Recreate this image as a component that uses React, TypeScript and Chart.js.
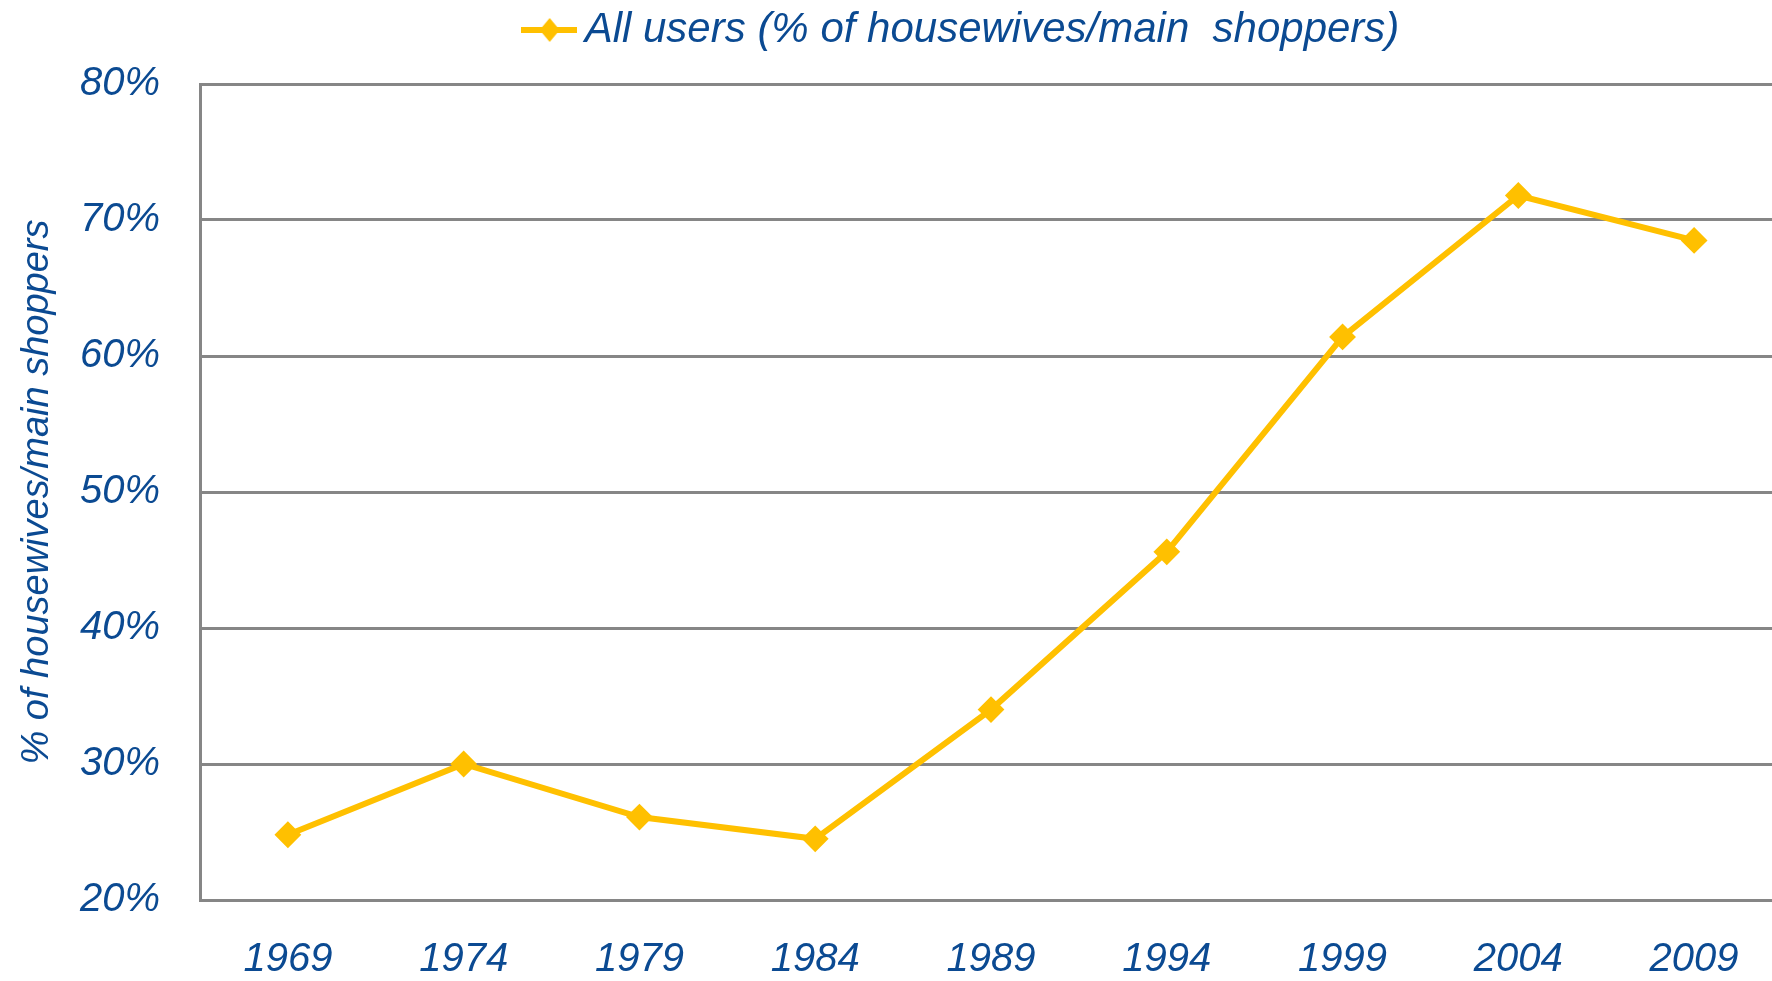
import React, { useEffect, useRef } from "react";
import { Chart, registerables } from "chart.js";

Chart.register(...registerables);

const years = ["1969", "1974", "1979", "1984", "1989", "1994", "1999", "2004", "2009"];
const allUsers = [24.8, 30.0, 26.1, 24.5, 34.0, 45.6, 61.4, 71.8, 68.5];
const seriesLabel = "All users (% of housewives/main  shoppers)";
const yAxisTitle = "% of housewives/main shoppers";
const yMin = 20;
const yMax = 80;
const yStep = 10;

const TEXT = "#0B4A92";
const LINE = "#FFC000";
const GRID = "#868686";
const FONT = "'Liberation Sans', Arial, sans-serif";
const CANVAS_W = 1796;

function makeLegendMarker(): HTMLCanvasElement {
  const c = document.createElement("canvas");
  c.width = 56;
  c.height = 26;
  const ctx = c.getContext("2d")!;
  ctx.strokeStyle = LINE;
  ctx.lineWidth = 6;
  ctx.beginPath();
  ctx.moveTo(0, 13);
  ctx.lineTo(56, 13);
  ctx.stroke();
  ctx.fillStyle = LINE;
  ctx.beginPath();
  ctx.moveTo(29, 1);
  ctx.lineTo(39, 13);
  ctx.lineTo(29, 25);
  ctx.lineTo(19, 13);
  ctx.closePath();
  ctx.fill();
  return c;
}

const legendTweaks = {
  id: "legendTweaks",
  beforeInit(chart: any) {
    const legend = chart.legend;
    if (!legend) return;
    const origFit = legend.fit;
    legend.fit = function () {
      origFit.call(this);
      this.height += 23;
    };
  },
  afterLayout(chart: any) {
    if (chart.legend) chart.legend.left += 137;
  },
};

export default function App() {
  const ref = useRef<HTMLCanvasElement>(null);
  useEffect(() => {
    if (!ref.current) return;
    const marker = makeLegendMarker();
    const chart = new Chart(ref.current, {
      type: "line",
      data: {
        labels: years,
        datasets: [
          {
            label: seriesLabel,
            data: allUsers,
            borderColor: LINE,
            backgroundColor: LINE,
            borderWidth: 6,
            pointStyle: "rectRot",
            pointRadius: 12,
            pointBorderWidth: 2,
            pointBorderColor: LINE,
            pointBackgroundColor: LINE,
            tension: 0,
          },
        ],
      },
      plugins: [legendTweaks],
      options: {
        responsive: false,
        animation: false,
        devicePixelRatio: 1,
        layout: { padding: { top: 1, right: 0, bottom: 0, left: 0 } },
        plugins: {
          tooltip: { enabled: false },
          legend: {
            display: true,
            position: "top",
            labels: {
              usePointStyle: true,
              pointStyle: marker as any,
              pointStyleWidth: 30,
              color: TEXT,
              padding: 8,
              font: { family: FONT, size: 42, style: "italic" },
            },
          },
        },
        scales: {
          x: {
            type: "category",
            offset: true,
            grid: { display: false, drawTicks: false },
            border: { display: true, color: GRID, width: 3 },
            ticks: {
              color: TEXT,
              padding: 36,
              maxRotation: 0,
              font: { family: FONT, size: 40, style: "italic" },
            },
            afterFit: (scale: any) => {
              scale.height = 81;
            },
          },
          y: {
            min: yMin,
            max: yMax,
            grid: { color: GRID, lineWidth: 3, drawTicks: false },
            border: { display: true, color: GRID, width: 3 },
            ticks: {
              stepSize: yStep,
              color: TEXT,
              padding: 40,
              font: { family: FONT, size: 40, style: "italic" },
              callback: (v: any) => `${v}%`,
            },
            title: {
              display: true,
              text: yAxisTitle,
              color: TEXT,
              padding: { top: 15, bottom: 0 },
              font: { family: FONT, size: 38, style: "italic" },
            },
            afterFit: (scale: any) => {
              scale.width = 200;
            },
          },
        },
      },
    });
    return () => chart.destroy();
  }, []);

  return (
    <div
      style={{
        position: "fixed",
        left: 0,
        top: 0,
        width: 1772,
        height: 981,
        overflow: "hidden",
        background: "#fff",
      }}
    >
      <canvas
        ref={ref}
        width={CANVAS_W}
        height={981}
        style={{ display: "block", width: CANVAS_W, height: 981 }}
      />
    </div>
  );
}
